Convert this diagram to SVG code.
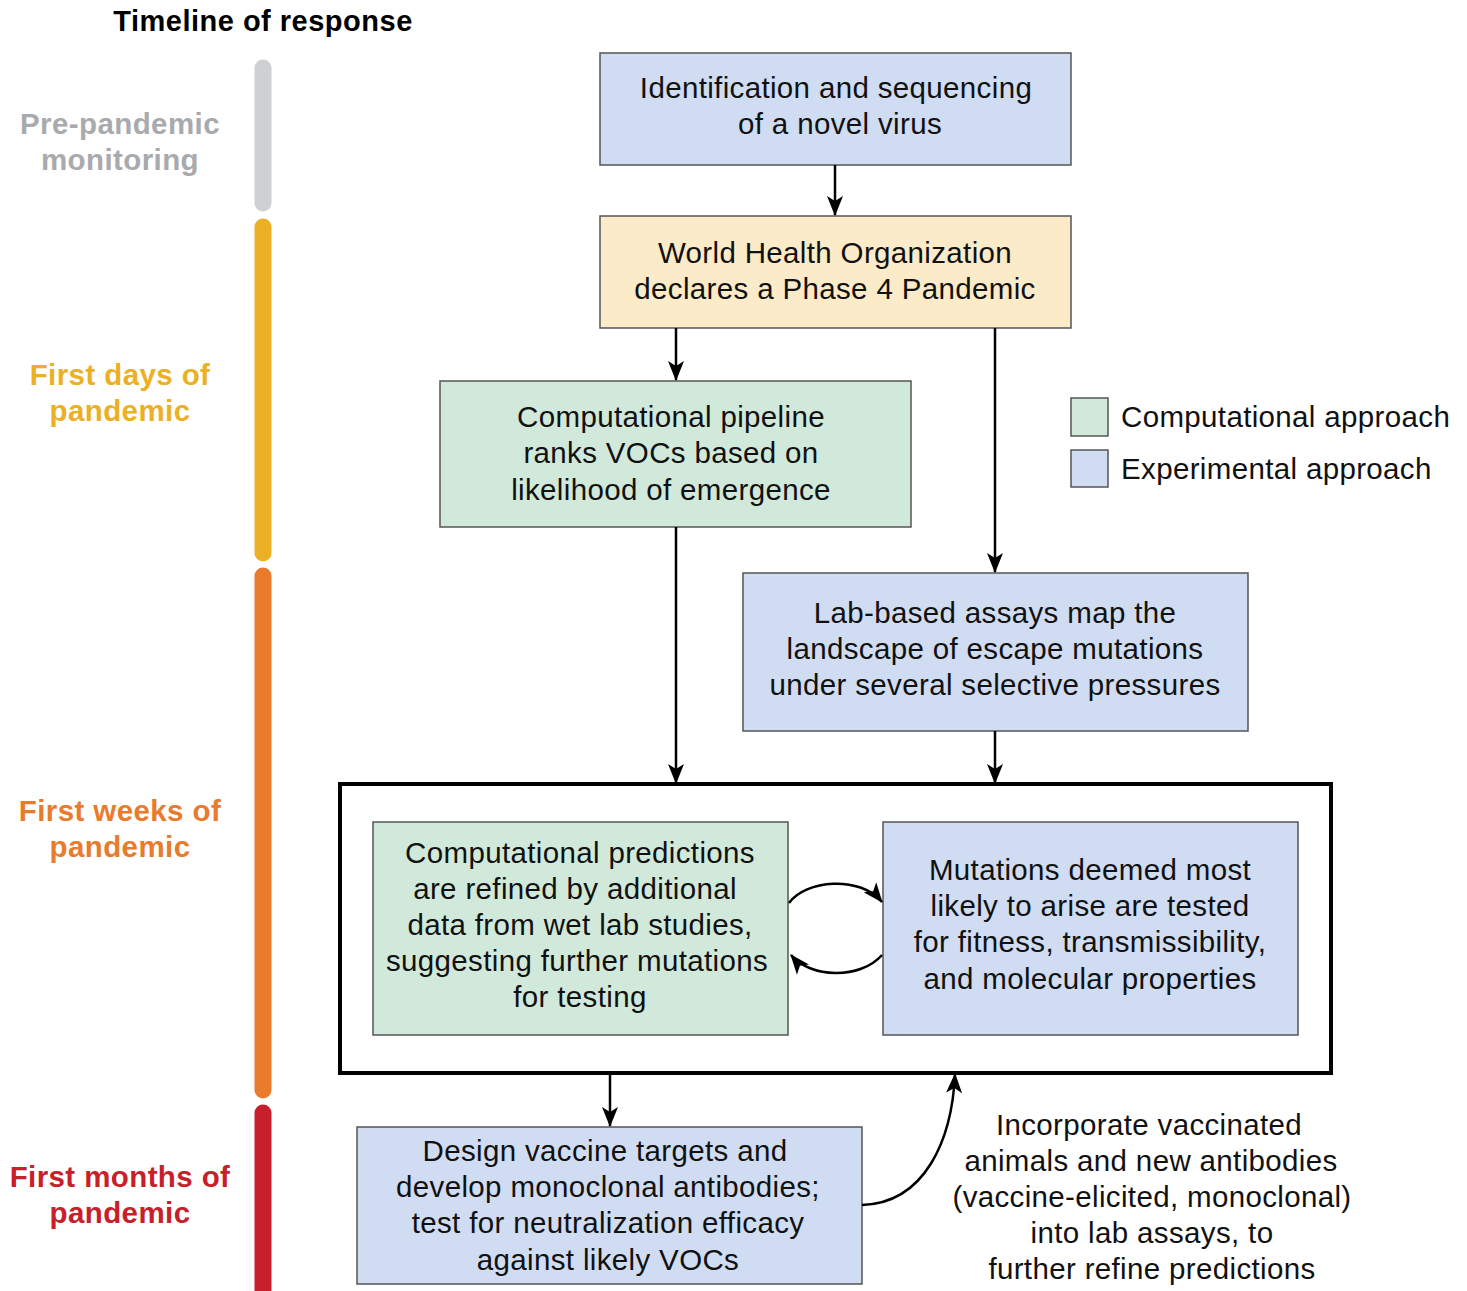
<svg xmlns="http://www.w3.org/2000/svg" width="1467" height="1291" viewBox="0 0 1467 1291">
<defs>
<marker id="ah" viewBox="0 0 20 16" refX="19" refY="8" markerWidth="20" markerHeight="17" markerUnits="userSpaceOnUse" orient="auto">
<path d="M0,0 L20,8 L0,16 L5,8 Z" fill="#000"/>
</marker>
<style>
.t{font-family:"Liberation Sans",Arial,sans-serif;font-size:29.5px;letter-spacing:0.35px;fill:#111;text-anchor:middle}
.tl{font-family:"Liberation Sans",Arial,sans-serif;font-size:29.5px;letter-spacing:0.4px;font-weight:bold;text-anchor:middle}
.blue{fill:#cfdcf2;stroke:#555;stroke-width:1.5}
.green{fill:#d1e9da;stroke:#555;stroke-width:1.5}
.yellow{fill:#fbebc8;stroke:#555;stroke-width:1.5}
.c{fill:none;stroke:#000;stroke-width:2.5;marker-end:url(#ah)}
.bar{stroke-width:17;stroke-linecap:round;fill:none}
</style>
</defs>
<rect width="1467" height="1291" fill="#fff"/>
<g id="timeline">
<text x="263" y="31" class="tl" style="font-size:29px;letter-spacing:0.5px" fill="#000">Timeline of response</text>
<line class="bar" x1="263" y1="68" x2="263" y2="203" stroke="#cfd0d3"/>
<line class="bar" x1="263" y1="227" x2="263" y2="553" stroke="#ebb024"/>
<line class="bar" x1="263" y1="576" x2="263" y2="1090" stroke="#e87b2c"/>
<line class="bar" x1="263" y1="1113" x2="263" y2="1300" stroke="#c8202a"/>
<text class="tl" fill="#a8aaad"><tspan x="120" y="134">Pre-pandemic</tspan><tspan x="120" y="170">monitoring</tspan></text>
<text class="tl" fill="#ebb024"><tspan x="120" y="385">First days of</tspan><tspan x="120" y="421">pandemic</tspan></text>
<text class="tl" fill="#e87b2c"><tspan x="120" y="821">First weeks of</tspan><tspan x="120" y="857">pandemic</tspan></text>
<text class="tl" fill="#c8202a"><tspan x="120" y="1187">First months of</tspan><tspan x="120" y="1223">pandemic</tspan></text>
</g>
<g id="n-identification">
<rect class="blue" x="600" y="53" width="471" height="112"/>
<text class="t"><tspan x="836" y="98">Identification and sequencing</tspan><tspan x="840" y="134">of a novel virus</tspan></text>
</g>
<g id="n-who">
<rect class="yellow" x="600" y="216" width="471" height="112"/>
<text class="t"><tspan x="835" y="263">World Health Organization</tspan><tspan x="835" y="299">declares a Phase 4 Pandemic</tspan></text>
</g>
<g id="n-pipeline">
<rect class="green" x="440" y="381" width="471" height="146"/>
<text class="t"><tspan x="671" y="427">Computational pipeline</tspan><tspan x="671" y="463">ranks VOCs based on</tspan><tspan x="671" y="500">likelihood of emergence</tspan></text>
</g>
<g id="n-lab">
<rect class="blue" x="743" y="573" width="505" height="158"/>
<text class="t"><tspan x="995" y="623">Lab-based assays map the</tspan><tspan x="995" y="659">landscape of escape mutations</tspan><tspan x="995" y="695">under several selective pressures</tspan></text>
</g>
<g id="legend">
<rect class="green" x="1071" y="398" width="37" height="38"/>
<rect class="blue" x="1071" y="450" width="37" height="37"/>
<text class="t" style="text-anchor:start"><tspan x="1121" y="427">Computational approach</tspan><tspan x="1121" y="479">Experimental approach</tspan></text>
</g>
<g id="n-loop">
<rect x="340" y="784" width="991" height="289" fill="none" stroke="#000" stroke-width="4"/>
</g>
<g id="n-refined">
<rect class="green" x="373" y="822" width="415" height="213"/>
<text class="t"><tspan x="580" y="863">Computational predictions</tspan><tspan x="575" y="899">are refined by additional</tspan><tspan x="580" y="935">data from wet lab studies,</tspan><tspan x="577" y="971">suggesting further mutations</tspan><tspan x="580" y="1007">for testing</tspan></text>
</g>
<g id="n-tested">
<rect class="blue" x="883" y="822" width="415" height="213"/>
<text class="t"><tspan x="1090" y="880">Mutations deemed most</tspan><tspan x="1090" y="916">likely to arise are tested</tspan><tspan x="1090" y="952">for fitness, transmissibility,</tspan><tspan x="1090" y="989">and molecular properties</tspan></text>
</g>
<g id="n-design">
<rect class="blue" x="357" y="1127" width="505" height="157"/>
<text class="t"><tspan x="605" y="1161">Design vaccine targets and</tspan><tspan x="608" y="1197">develop monoclonal antibodies;</tspan><tspan x="608" y="1233">test for neutralization efficacy</tspan><tspan x="608" y="1270">against likely VOCs</tspan></text>
</g>
<g id="n-incorporate">
<text class="t"><tspan x="1149" y="1135">Incorporate vaccinated</tspan><tspan x="1151" y="1171">animals and new antibodies</tspan><tspan x="1152" y="1207">(vaccine-elicited, monoclonal)</tspan><tspan x="1152" y="1243">into lab assays, to</tspan><tspan x="1152" y="1279">further refine predictions</tspan></text>
</g>
<g id="connectors">
<line class="c" x1="835" y1="165" x2="835" y2="215"/>
<line class="c" x1="676" y1="328" x2="676" y2="380"/>
<line class="c" x1="995" y1="328" x2="995" y2="572"/>
<line class="c" x1="676" y1="527" x2="676" y2="783"/>
<line class="c" x1="995" y1="731" x2="995" y2="783"/>
<line class="c" x1="610" y1="1073" x2="610" y2="1126"/>
<path class="c" d="M789,903 C805,880 860,875 882,902"/>
<path class="c" d="M882,955 C860,980 810,978 791,955"/>
<path class="c" d="M862,1205 C925,1203 952,1140 955,1074"/>
</g>
</svg>
